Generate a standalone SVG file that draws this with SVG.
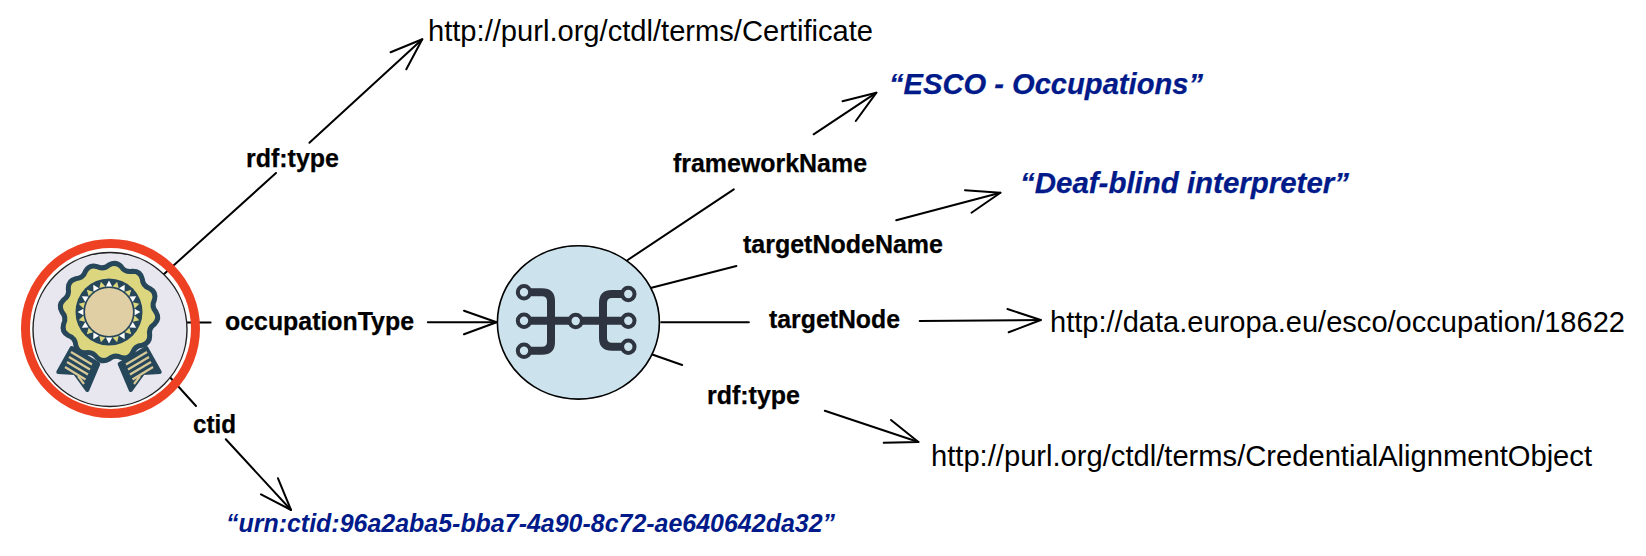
<svg xmlns="http://www.w3.org/2000/svg" xmlns:xlink="http://www.w3.org/1999/xlink" width="1646" height="556" viewBox="0 0 1646 556">
<style>
text{font-family:"Liberation Sans",Arial,sans-serif}
.p{font-size:25px;font-weight:700;fill:#000;stroke:#000;stroke-width:.25}
.u{font-size:29.5px;fill:#000}
.l{font-size:30px;font-weight:700;font-style:italic;fill:#001a8a;stroke:#001a8a;stroke-width:.25}
.s{font-size:25.5px;font-weight:700;font-style:italic;fill:#001a8a}
.c line,.c polyline{fill:none;stroke:#000;stroke-width:2;stroke-linecap:round;stroke-linejoin:round}
.wire{fill:none;stroke:#2e3440;stroke-width:8;stroke-linecap:butt}
.pin{fill:#cce3ed;stroke:#2e3440;stroke-width:4}
.stripe{stroke:#d9c998;stroke-width:2.2}
</style>
<defs>
<polygon id="tri" points="-3.2,25.6 3.2,25.6 0,31.4"/>
<g id="tail">
<polygon points="71.7,348 98.3,364 87.3,390 75,373 58.3,372" fill="#26465a" stroke="#26465a" stroke-width="4" stroke-linejoin="round"/>
<line class="stripe" x1="71" y1="352" x2="92" y2="364.5"/>
<line class="stripe" x1="69" y1="357" x2="90" y2="369.5"/>
<line class="stripe" x1="67" y1="362" x2="88" y2="374.5"/>
<line class="stripe" x1="65" y1="367" x2="85.5" y2="379.5"/>
<line class="stripe" x1="78" y1="376" x2="84" y2="384"/>
</g>
</defs>
<g id="connectors" class="c">
<line x1="163" y1="275" x2="276" y2="173"/>
<line x1="309.4" y1="142.7" x2="422.3" y2="39.3"/>
<polyline points="390.6,52.3 422.3,39.3 406.3,69.3"/>
<line x1="187" y1="322.5" x2="210.6" y2="322.5"/>
<line x1="427.8" y1="322.3" x2="496.6" y2="322.3"/>
<polyline points="464,310.7 496.6,322.3 464,334.3"/>
<line x1="168.4" y1="375.5" x2="196" y2="406"/>
<line x1="225.8" y1="439.3" x2="291" y2="510"/>
<polyline points="261,494.3 291,510 278,478.3"/>
<line x1="627.7" y1="260" x2="733.8" y2="189.3"/>
<line x1="813.6" y1="134.3" x2="876.4" y2="92.7"/>
<polyline points="842.5,101.3 876.4,92.7 855.8,121"/>
<line x1="651.5" y1="287.7" x2="736.4" y2="266"/>
<line x1="896.2" y1="220.3" x2="1000.4" y2="192.7"/>
<polyline points="965,190.3 1000.4,192.7 971.5,212.7"/>
<line x1="661.2" y1="322.3" x2="748.9" y2="322.3"/>
<line x1="919.7" y1="321" x2="1040.8" y2="320"/>
<polyline points="1007.4,309 1040.8,320 1008.7,332.3"/>
<line x1="650.8" y1="354" x2="682.2" y2="365"/>
<line x1="824.8" y1="410.7" x2="918.4" y2="442"/>
<polyline points="891,420 918.4,442 883.7,442.7"/>
</g>
<g id="node-certificate">
<circle cx="110" cy="329.5" r="77" fill="#e8e6ee" stroke="#222" stroke-width="1.4"/>
<circle cx="110.5" cy="328.5" r="85" fill="none" stroke="#ee4023" stroke-width="9"/>
<use xlink:href="#tail" href="#tail"/>
<use xlink:href="#tail" href="#tail" transform="translate(218,0) scale(-1,1)"/>
<g transform="translate(109,312)">
<path d="M47,0 Q51.06,6.72 45.4,12.16 Q39.27,16.26 40.7,23.5 Q40.86,31.35 33.23,33.23 Q25.87,33.72 23.5,40.7 Q19.71,47.58 12.16,45.4 Q5.55,42.14 0,47 Q-6.72,51.06 -12.16,45.4 Q-16.26,39.27 -23.5,40.7 Q-31.35,40.86 -33.23,33.23 Q-33.72,25.87 -40.7,23.5 Q-47.58,19.71 -45.4,12.16 Q-42.14,5.55 -47,0 Q-51.06,-6.72 -45.4,-12.16 Q-39.27,-16.26 -40.7,-23.5 Q-40.86,-31.35 -33.23,-33.23 Q-25.87,-33.72 -23.5,-40.7 Q-19.71,-47.58 -12.16,-45.4 Q-5.55,-42.14 0,-47 Q6.72,-51.06 12.16,-45.4 Q16.26,-39.27 23.5,-40.7 Q31.35,-40.86 33.23,-33.23 Q33.72,-25.87 40.7,-23.5 Q47.58,-19.71 45.4,-12.16 Q42.14,-5.55 47,0Z" fill="#dcd67f" stroke="#26465a" stroke-width="5" stroke-linejoin="round"/>
<circle r="33.5" fill="#26465a"/>
<g fill="#fff">
<use href="#tri" transform="rotate(0)"/><use href="#tri" transform="rotate(30)"/><use href="#tri" transform="rotate(60)"/><use href="#tri" transform="rotate(90)"/><use href="#tri" transform="rotate(120)"/><use href="#tri" transform="rotate(150)"/><use href="#tri" transform="rotate(180)"/><use href="#tri" transform="rotate(210)"/><use href="#tri" transform="rotate(240)"/><use href="#tri" transform="rotate(270)"/><use href="#tri" transform="rotate(300)"/><use href="#tri" transform="rotate(330)"/>
</g>
<g fill="#dcd67f">
<use href="#tri" transform="rotate(15)"/><use href="#tri" transform="rotate(45)"/><use href="#tri" transform="rotate(75)"/><use href="#tri" transform="rotate(105)"/><use href="#tri" transform="rotate(135)"/><use href="#tri" transform="rotate(165)"/><use href="#tri" transform="rotate(195)"/><use href="#tri" transform="rotate(225)"/><use href="#tri" transform="rotate(255)"/><use href="#tri" transform="rotate(285)"/><use href="#tri" transform="rotate(315)"/><use href="#tri" transform="rotate(345)"/>
</g>
<circle r="24" fill="#e0cfa5"/>
</g>
</g>
<g id="node-alignment">
<ellipse cx="578.4" cy="322.4" rx="81" ry="76.7" fill="#cce3ed" stroke="#000" stroke-width="1.6"/>
<path class="wire" d="M530,292.3 H542 Q551,292.3 551,301 V342 Q551,350.7 542,350.7 H530"/>
<path class="wire" d="M530,320.7 H570"/>
<path class="wire" d="M581,320.7 H622"/>
<path class="wire" d="M622,294 H612 Q603,294 603,303 V338 Q603,346.7 612,346.7 H622"/>
<circle class="pin" cx="524" cy="292.3" r="6.2"/>
<circle class="pin" cx="524" cy="320.7" r="6.2"/>
<circle class="pin" cx="524" cy="350.7" r="6.2"/>
<circle class="pin" cx="575.7" cy="321" r="6.2"/>
<circle class="pin" cx="628.3" cy="294" r="6.2"/>
<circle class="pin" cx="628.3" cy="320.7" r="6.2"/>
<circle class="pin" cx="628.3" cy="346.7" r="6.2"/>
</g>
<g id="node-certificate-type"><text class="u" x="428" y="41" textLength="445" lengthAdjust="spacingAndGlyphs">http://purl.org/ctdl/terms/Certificate</text></g>
<g id="node-framework-name"><text class="l" x="889" y="94" textLength="314" lengthAdjust="spacingAndGlyphs">“ESCO - Occupations”</text></g>
<g id="node-target-name"><text class="l" x="1020" y="193" textLength="329" lengthAdjust="spacingAndGlyphs">“Deaf-blind interpreter”</text></g>
<g id="node-target"><text class="u" x="1050" y="332" textLength="575" lengthAdjust="spacingAndGlyphs">http://data.europa.eu/esco/occupation/18622</text></g>
<g id="node-alignment-type"><text class="u" x="931" y="466" textLength="661" lengthAdjust="spacingAndGlyphs">http://purl.org/ctdl/terms/CredentialAlignmentObject</text></g>
<g id="node-ctid"><text class="s" x="226" y="532" textLength="609" lengthAdjust="spacingAndGlyphs">“urn:ctid:96a2aba5-bba7-4a90-8c72-ae640642da32”</text></g>
<g id="connector-labels">
<text class="p" x="246" y="167" textLength="93" lengthAdjust="spacingAndGlyphs">rdf:type</text>
<text class="p" x="225" y="330" textLength="189" lengthAdjust="spacingAndGlyphs">occupationType</text>
<text class="p" x="193" y="433" textLength="43" lengthAdjust="spacingAndGlyphs">ctid</text>
<text class="p" x="673" y="172" textLength="194" lengthAdjust="spacingAndGlyphs">frameworkName</text>
<text class="p" x="743" y="253" textLength="200" lengthAdjust="spacingAndGlyphs">targetNodeName</text>
<text class="p" x="769" y="328" textLength="131" lengthAdjust="spacingAndGlyphs">targetNode</text>
<text class="p" x="707" y="404" textLength="93" lengthAdjust="spacingAndGlyphs">rdf:type</text>
</g>
</svg>
